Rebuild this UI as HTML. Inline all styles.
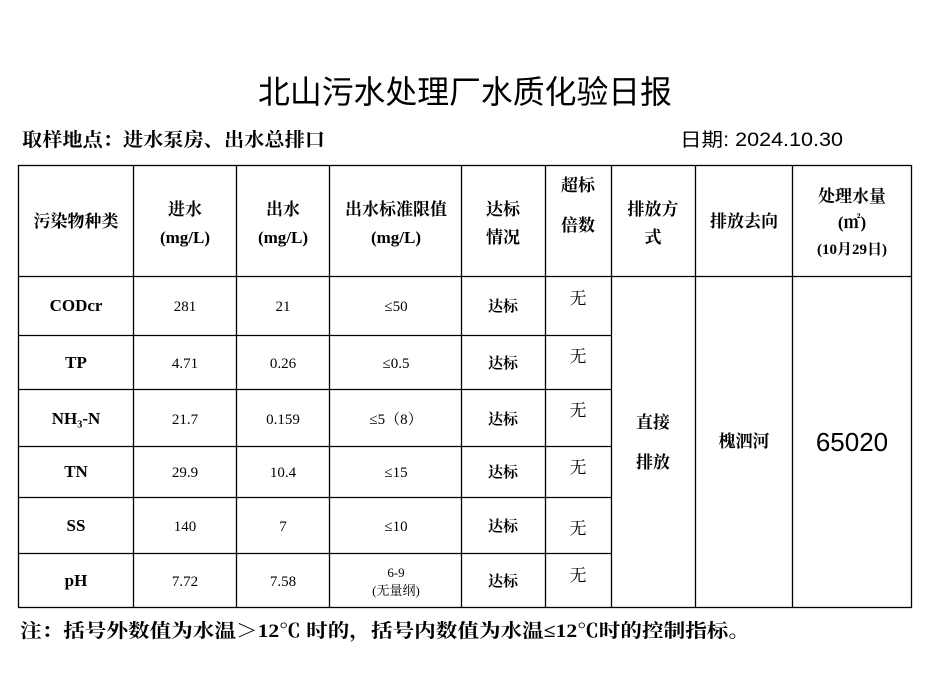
<!DOCTYPE html>
<html><head><meta charset="utf-8"><style>
html,body{margin:0;padding:0;background:#fff;}
svg{display:block}
text{font-family:"Liberation Serif","Noto Serif CJK SC",serif;fill:#000;}
.s{font-family:"Liberation Sans","Noto Sans CJK SC",sans-serif;}
.m{font-family:"Liberation Mono","Noto Serif CJK SC",monospace;}
</style></head><body>
<svg width="927" height="680" viewBox="0 0 927 680" xmlns="http://www.w3.org/2000/svg">
<rect width="927" height="680" fill="#fff"/>
<text class="s" x="258" y="103" font-size="32" textLength="414" lengthAdjust="spacingAndGlyphs">北山污水处理厂水质化验日报</text>
<text x="22" y="146" font-size="19" font-weight="bold" textLength="303" lengthAdjust="spacingAndGlyphs">取样地点：进水泵房、出水总排口</text>
<text class="s" x="680" y="146" font-size="19" textLength="163" lengthAdjust="spacingAndGlyphs">日期: 2024.10.30</text>
<g stroke="#000" stroke-width="1.3" fill="none">
<rect x="18.5" y="165.5" width="893" height="442"/>
<line x1="133.5" y1="165" x2="133.5" y2="608"/>
<line x1="236.5" y1="165" x2="236.5" y2="608"/>
<line x1="329.5" y1="165" x2="329.5" y2="608"/>
<line x1="461.5" y1="165" x2="461.5" y2="608"/>
<line x1="545.5" y1="165" x2="545.5" y2="608"/>
<line x1="611.5" y1="165" x2="611.5" y2="608"/>
<line x1="695.5" y1="165" x2="695.5" y2="608"/>
<line x1="792.5" y1="165" x2="792.5" y2="608"/>
<line x1="18" y1="276.5" x2="912" y2="276.5"/>
<line x1="18" y1="335.5" x2="611" y2="335.5"/>
<line x1="18" y1="389.5" x2="611" y2="389.5"/>
<line x1="18" y1="446.5" x2="611" y2="446.5"/>
<line x1="18" y1="497.5" x2="611" y2="497.5"/>
<line x1="18" y1="553.5" x2="611" y2="553.5"/>
</g>
<g font-size="17" text-anchor="middle" font-weight="bold">
<text x="76" y="227">污染物种类</text>
<text x="185" y="215">进水</text><text x="185" y="243">(mg/L)</text>
<text x="283" y="215">出水</text><text x="283" y="243">(mg/L)</text>
<text x="396" y="215">出水标准限值</text><text x="396" y="243">(mg/L)</text>
<text x="503" y="215">达标</text><text x="503" y="243">情况</text>
<text x="578" y="191">超标</text><text x="578" y="231">倍数</text>
<text x="653" y="215">排放方</text><text x="653" y="243">式</text>
<text x="744" y="227">排放去向</text>
<text x="852" y="202">处理水量</text><text x="852" y="228">(㎡)</text>
<text x="852" y="254" font-size="15">(10月29日)</text>
</g>
<g font-size="15" text-anchor="middle">
<text x="76" y="311" font-size="17" font-weight="bold">CODcr</text>
<text x="76" y="368" font-size="17" font-weight="bold">TP</text>
<text x="76" y="424" font-size="17" font-weight="bold">NH₃-N</text>
<text x="76" y="477" font-size="17" font-weight="bold">TN</text>
<text x="76" y="531" font-size="17" font-weight="bold">SS</text>
<text x="76" y="586" font-size="17" font-weight="bold">pH</text>
<text x="185" y="311">281</text><text x="283" y="311">21</text><text x="396" y="311">≤50</text>
<text x="185" y="368">4.71</text><text x="283" y="368">0.26</text><text x="396" y="368">≤0.5</text>
<text x="185" y="424">21.7</text><text x="283" y="424">0.159</text><text x="396" y="424">≤5（8）</text>
<text x="185" y="477">29.9</text><text x="283" y="477">10.4</text><text x="396" y="477">≤15</text>
<text x="185" y="531">140</text><text x="283" y="531">7</text><text x="396" y="531">≤10</text>
<text x="185" y="586">7.72</text><text x="283" y="586">7.58</text>
<text x="396" y="577" font-size="13">6-9</text><text x="396" y="595" font-size="13">(无量纲)</text>
<g font-weight="bold">
<text x="503" y="311">达标</text><text x="503" y="368">达标</text><text x="503" y="424">达标</text>
<text x="503" y="477">达标</text><text x="503" y="531">达标</text><text x="503" y="586">达标</text>
</g>
<g font-size="17">
<text x="578" y="304">无</text><text x="578" y="362">无</text><text x="578" y="416">无</text>
<text x="578" y="473">无</text><text x="578" y="534">无</text><text x="578" y="581">无</text>
</g>
<text x="653" y="428" font-size="17" font-weight="bold">直接</text>
<text x="653" y="468" font-size="17" font-weight="bold">排放</text>
<text x="744" y="447" font-size="17" font-weight="bold">槐泗河</text>
<text x="852" y="451" font-size="26" class="s">65020</text>
</g>
<text x="20" y="637" font-size="19" font-weight="bold" textLength="730" lengthAdjust="spacingAndGlyphs">注：括号外数值为水温＞12℃ 时的，括号内数值为水温≤12℃时的控制指标。</text>
</svg>
</body></html>
